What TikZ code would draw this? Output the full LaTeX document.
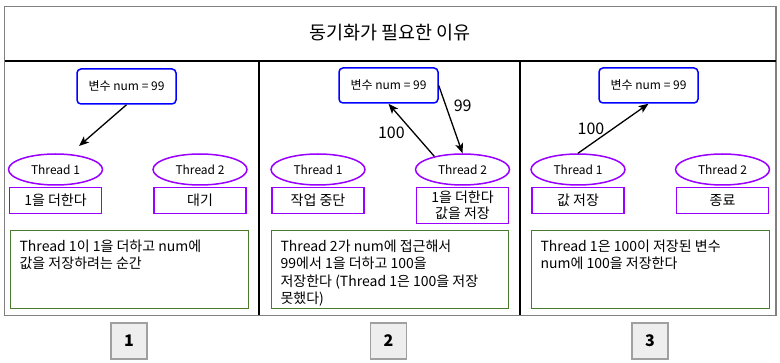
\documentclass[tikz,border=0pt]{standalone}
\usepackage{fontspec}
\setmainfont{Noto Sans CJK KR}
\usepackage{xcolor}
\usetikzlibrary{shapes,arrows.meta,positioning}

\definecolor{varblue}{HTML}{0000FF}
\definecolor{thpurple}{HTML}{9900FF}
\definecolor{notegreen}{HTML}{4A7A2C}
\definecolor{framegray}{HTML}{808080}
\definecolor{numfill}{HTML}{EEEEEE}
\definecolor{numdraw}{HTML}{A0A0A0}

\begin{document}
\begin{tikzpicture}[
        x=1pt, y=-1pt,
        var/.style={rectangle, draw=varblue, line width=1.5pt, rounded corners=4pt, minimum width=99pt, minimum height=35pt, font=\fontsize{12}{14}\selectfont},
        thread/.style={ellipse, draw=thpurple, line width=1.5pt, minimum width=94pt, minimum height=31pt, inner sep=0pt, font=\fontsize{12}{14}\selectfont},
        job/.style={rectangle, draw=thpurple, line width=1.5pt, minimum width=92pt, minimum height=26pt, inner sep=2pt, align=center, font=\fontsize{14}{16.5}\selectfont},
        note/.style={rectangle, draw=notegreen, line width=1.2pt, anchor=north west, inner xsep=9pt, inner ysep=9pt, font=\fontsize{14}{17.5}\selectfont},
        num/.style={rectangle, draw=numdraw, fill=numfill, line width=1.2pt, minimum size=36pt, font=\fontsize{16}{18}\selectfont\bfseries},
        flow/.style={-{Stealth[length=10pt, width=8pt, inset=2.5pt]}, line width=1.3pt},
        val/.style={font=\fontsize{16}{18}\selectfont}
    ]
    \useasboundingbox (0,0) rectangle (780,363);

    % Frame
    \draw[framegray, line width=1.5pt] (4.5,6.5) rectangle (776,315.5);
    \draw[line width=1.2pt] (4.5,61) -- (776,61);
    \draw[line width=1.2pt] (259,61) -- (259,315.5);
    \draw[line width=1.2pt] (520,61) -- (520,315.5);
    \node[font=\fontsize{18.5}{22}\selectfont] (title) at (390,33) {동기화가 필요한 이유};

    % Step 1
    \node[var] (var1) at (126.5,86.5) {변수 num = 99};
    \node[thread] (t11) at (55.5,169.5) {Thread 1};
    \node[thread] (t12) at (200,169.5) {Thread 2};
    \node[job, below=1pt of t11] (j11) {1을 더한다};
    \node[job, below=1pt of t12] (j12) {대기};
    \node[note] (note1) at (10,230) {\begin{minipage}[t][60pt][t]{220pt}\raggedright
        Thread 1이 1을 더하고 num에\\값을 저장하려는 순간\end{minipage}};
    \coordinate (end1) at (79,146);
    \draw[flow] (var1.south) -- (end1);

    % Step 2
    \node[var] (var2) at (388.5,85.5) {변수 num = 99};
    \node[thread] (t21) at (318,169.5) {Thread 1};
    \node[thread] (t22) at (462.5,169.5) {Thread 2};
    \node[job, below=1pt of t21] (j21) {작업 중단};
    \node[job, below=1pt of t22, minimum height=36pt] (j22) {1을 더한다\\값을 저장};
    \node[note] (note2) at (271,230) {\begin{minipage}[t][60pt][t]{219pt}\raggedright
        Thread 2가 num에 접근해서\\99에서 1을 더하고 100을\\저장한다 (Thread 1은 100을 저장\\못했다)\end{minipage}};
    \draw[flow] (var2.east) -- node[pos=0.3, right=4pt, val] {99} (t22.north);
    \draw[flow] (t22.155) -- node[pos=0.45, left=5pt, val] {100} (var2.south);

    % Step 3
    \node[var] (var3) at (648.5,85.5) {변수 num = 99};
    \node[thread] (t31) at (578,169.5) {Thread 1};
    \node[thread] (t32) at (722.5,169.5) {Thread 2};
    \node[job, below=1pt of t31] (j31) {값 저장};
    \node[job, below=1pt of t32] (j32) {종료};
    \node[note] (note3) at (531,230) {\begin{minipage}[t][60pt][t]{220pt}\raggedright
        Thread 1은 100이 저장된 변수\\num에 100을 저장한다\end{minipage}};
    \draw[flow] (t31.north) -- node[midway, left=5pt, val] {100} (var3.south);

    % Step numbers
    \node[num] (n1) at (129,341) {1};
    \node[num] (n2) at (388.5,341) {2};
    \node[num] (n3) at (650,341) {3};

    \end{tikzpicture}
\end{document}
